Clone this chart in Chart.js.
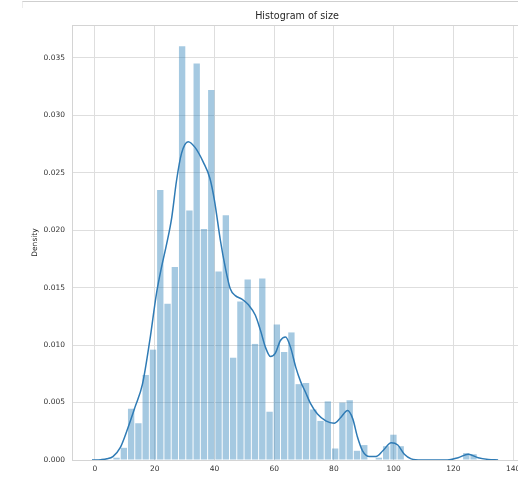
<!DOCTYPE html>
<html>
<head>
<meta charset="utf-8">
<script src="https://cdn.jsdelivr.net/npm/chart.js@4.4.1/dist/chart.umd.min.js"></script>
<style>
  html, body { margin: 0; padding: 0; background: #fff; overflow: hidden; }
  #wrap { position: relative; width: 518px; height: 484px; overflow: hidden; }
  #frame { position: absolute; left: 22px; top: 1px; width: 500px; height: 6px;
           border-top: 1px solid #cfcfcf; border-left: 1px solid #ececec; }
  canvas { position: absolute; left: 0; top: 0; }
</style>
</head>
<body>
<div id="wrap">
  <canvas id="c" width="540" height="484"></canvas>
  <div id="frame"></div>
</div>
<script>
// ---- data ----
const binCenters = [7.22, 9.66, 12.10, 14.54, 16.98, 19.42, 21.86, 24.30, 26.74, 29.18,
  31.62, 34.06, 36.50, 38.94, 41.38, 43.82, 46.26, 48.70, 51.14, 53.58,
  56.02, 58.46, 60.90, 63.34, 65.78, 68.22, 70.66, 73.10, 75.54, 77.98,
  80.42, 82.86, 85.30, 87.74, 90.18, 92.62, 95.06, 97.50, 99.94, 102.38,
  104.82, 107.26, 109.70, 112.14, 114.58, 117.02, 119.46, 121.90, 124.34, 126.78];
const binDensity = [0.0002, 0.00106, 0.00446, 0.0032, 0.0074, 0.0096, 0.0235, 0.0136, 0.0168, 0.0360,
  0.0217, 0.0345, 0.0201, 0.0322, 0.0164, 0.0213, 0.0089, 0.0138, 0.0157, 0.0101,
  0.0158, 0.0042, 0.0118, 0.0094, 0.0111, 0.0066, 0.0067, 0.0044, 0.0034, 0.0051,
  0.0010, 0.0050, 0.0052, 0.0008, 0.0013, 0, 0.0002, 0.0012, 0.0022, 0.0012,
  0, 0, 0, 0, 0, 0, 0, 0, 0.0006, 0.0005];
const kdeX = [-1, 2, 4, 6, 8.5, 10.9, 13.4, 15.9, 18.35, 20.6, 22.3, 24.0, 25.7, 27.3, 29.0,
  31.2, 33.5, 36.3, 38.5, 40.0, 42.0, 43.6, 45.3, 47.0, 49.2, 51.4, 53.7, 55.4, 57.1, 58.8,
  60.4, 62.1, 63.8, 65.5, 67.2, 68.9, 70.5, 72.2, 74.5, 77.3, 80.1, 82.3, 84.6, 86.3, 87.9,
  89.6, 91.9, 94.1, 96.4, 99.2, 101.4, 103.6, 105.9, 109.3, 118, 121.6, 125, 128.3, 131.7, 135];
const kdeY = [0.0000, 0.00003, 0.0001, 0.0003, 0.0011, 0.0027, 0.0046, 0.0066, 0.0104, 0.0145,
  0.0168, 0.0188, 0.0211, 0.0243, 0.0267, 0.0277, 0.0272, 0.0259, 0.0245, 0.0226,
  0.0191, 0.0168, 0.0149, 0.0143, 0.0140, 0.0135, 0.0126, 0.0113, 0.0098, 0.0090,
  0.0093, 0.0104, 0.0107, 0.0098, 0.0081, 0.0068, 0.0059, 0.0049, 0.0040, 0.0034,
  0.0032, 0.0037, 0.0043, 0.0036, 0.0020, 0.0008, 0.0003, 0.0003, 0.0008, 0.0015,
  0.0013, 0.0005, 0.0001, 0.0, 0.0, 0.0002, 0.0005, 0.0002, 0.00005, 0.0];
const xTicks = [0, 20, 40, 60, 80, 100, 120, 140];
const yTicks = [0.000, 0.005, 0.010, 0.015, 0.020, 0.025, 0.030, 0.035];
const titleText = 'Histogram of size';
const yLabel = 'Density';

const gridColor = '#dedede';
const tickFont = { family: 'DejaVu Sans', size: 7.5 };

const framePlugin = {
  id: 'frame',
  beforeDatasetsDraw(chart) {
    const { ctx, chartArea: a } = chart;
    ctx.save();
    ctx.strokeStyle = '#d4d4d4';
    ctx.lineWidth = 1;
    ctx.strokeRect(Math.round(a.left) + 0.5, Math.round(a.top) + 0.5,
                   Math.round(a.right - a.left), Math.round(a.bottom - a.top));
    ctx.restore();
  }
};

new Chart(document.getElementById('c'), {
  type: 'bar',
  data: {
    datasets: [
      {
        type: 'line',
        data: kdeX.map((x, i) => ({ x: x, y: kdeY[i] })),
        borderColor: '#2f7bb5',
        borderWidth: 1.5,
        pointRadius: 0,
        fill: false,
        cubicInterpolationMode: 'monotone',
        order: 0
      },
      {
        type: 'bar',
        data: binCenters.map((x, i) => ({ x: x, y: binDensity[i] })),
        backgroundColor: 'rgba(31,119,180,0.4)',
        borderWidth: 0,
        barPercentage: 0.87,
        categoryPercentage: 1.0,
        order: 1
      }
    ]
  },
  options: {
    responsive: false,
    animation: false,
    events: [],
    layout: { padding: { left: 0, right: 18, top: 0, bottom: 0 } },
    plugins: {
      legend: { display: false },
      tooltip: { enabled: false },
      title: {
        display: true,
        text: titleText,
        fullSize: false,
        color: '#262626',
        font: { family: 'DejaVu Sans', size: 9.6, weight: 'normal', lineHeight: 1.2 },
        padding: { top: 11, bottom: 2.5 }
      }
    },
    scales: {
      x: {
        type: 'linear',
        min: -7.7,
        max: 143.0,
        offset: false,
        grid: { color: gridColor, lineWidth: 1, drawTicks: false, offset: false },
        border: { display: false },
        afterBuildTicks: (s) => { s.ticks = xTicks.map(v => ({ value: v })); },
        afterFit: (s) => { s.height = 24; },
        ticks: {
          color: '#333',
          font: tickFont,
          padding: 5,
          maxRotation: 0,
          autoSkip: false,
          callback: (v) => String(v)
        }
      },
      y: {
        type: 'linear',
        min: 0,
        max: 0.03785,
        grid: { color: gridColor, lineWidth: 1, drawTicks: false },
        border: { display: false },
        afterBuildTicks: (s) => { s.ticks = yTicks.map(v => ({ value: v })); },
        afterFit: (s) => { s.width = 72; },
        ticks: {
          color: '#333',
          font: tickFont,
          padding: 7,
          callback: (v) => Number(v).toFixed(3)
        },
        title: {
          display: true,
          text: yLabel,
          color: '#262626',
          font: { family: 'DejaVu Sans', size: 7.5, lineHeight: 1.2 },
          padding: { top: 31, bottom: 0 }
        }
      }
    }
  },
  plugins: [framePlugin]
});
</script>
</body>
</html>
